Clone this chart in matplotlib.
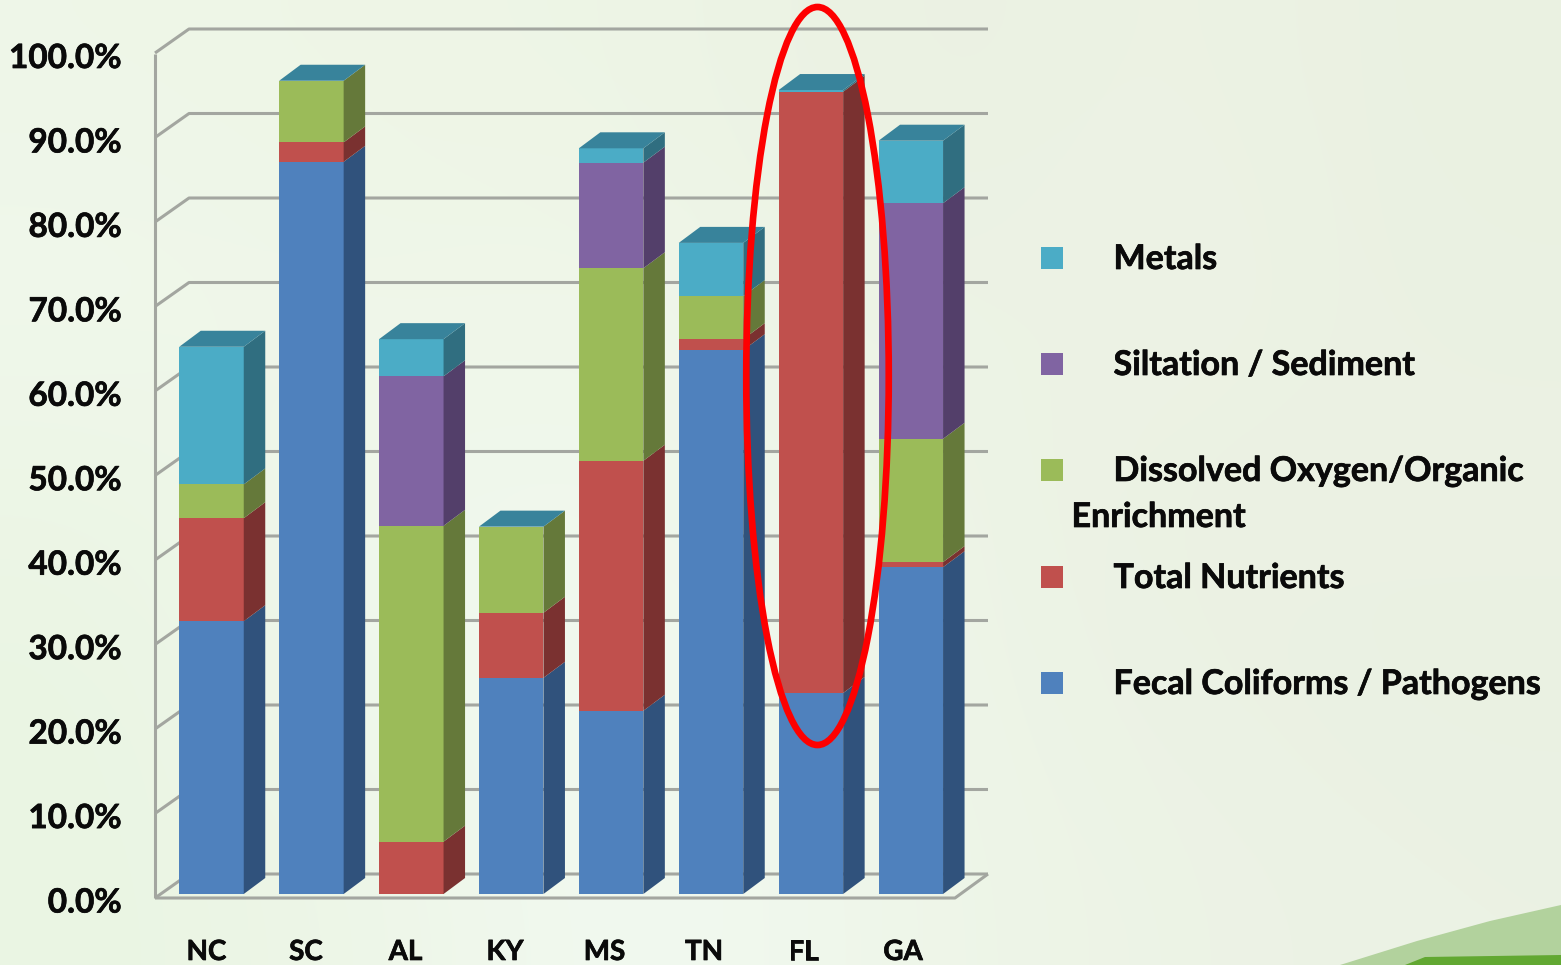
import matplotlib
matplotlib.use("Agg")
import matplotlib.pyplot as plt
import matplotlib.patheffects as pe
import numpy as np
from matplotlib.patches import Ellipse, Polygon

plt.rcParams["font.family"] = ["Lato", "DejaVu Sans"]

states = ["NC", "SC", "AL", "KY", "MS", "TN", "FL", "GA"]
y_ticks = [0, 10, 20, 30, 40, 50, 60, 70, 80, 90, 100]

# stacked shares per state, percent
fecal = [32.3, 86.7, 0.0, 25.6, 21.7, 64.4, 23.8, 38.7]
nutrients = [12.2, 2.3, 6.2, 7.7, 29.6, 1.3, 71.2, 0.6]
oxygen = [4.0, 7.3, 37.4, 10.2, 22.8, 5.1, 0.0, 14.6]
sediment = [0.0, 0.0, 17.7, 0.0, 12.5, 0.0, 0.0, 27.9]
metals = [16.3, 0.0, 4.4, 0.0, 1.7, 6.3, 0.2, 7.4]

series = [fecal, nutrients, oxygen, sediment, metals]
front_cols = ["#4f81bd", "#c0504d", "#9bbb59", "#8064a2", "#4bacc6"]
side_cols = ["#30527c", "#7a3130", "#65793a", "#533f6a", "#306e80"]
top_col = "#38839b"
grid_col = "#a3a6a0"

legend_labels = ["Metals", "Siltation / Sediment",
                 "Dissolved Oxygen/Organic", "Total Nutrients",
                 "Fecal Coliforms / Pathogens"]
legend_cols = ["#4bacc6", "#8064a2", "#9bbb59", "#c0504d", "#4f81bd"]
legend_y = [258, 364, 470, 577, 683]

W, H = 1561, 965
fig = plt.figure(figsize=(W / 100, H / 100), dpi=100)
heavy = [pe.withStroke(linewidth=0.5, foreground="#0a0a0a")]

# page layer in pixel coordinates: backdrop, leaf, legend
page = fig.add_axes([0, 0, 1, 1])
page.set_xlim(0, W)
page.set_ylim(H, 0)
page.axis("off")
backdrop = np.array([
    [[238, 246, 232], [238, 246, 230], [238, 245, 230], [234, 241, 226], [237, 243, 229], [234, 241, 225]],
    [[240, 248, 236], [239, 246, 232], [240, 247, 234], [235, 242, 228], [238, 244, 230], [234, 241, 226]],
    [[237, 246, 230], [240, 248, 236], [240, 248, 236], [238, 245, 231], [235, 241, 226], [236, 242, 228]],
    [[234, 245, 227], [240, 248, 238], [242, 250, 242], [238, 245, 232], [235, 242, 228], [234, 241, 226]],
    [[234, 245, 227], [238, 246, 232], [242, 250, 242], [238, 246, 232], [237, 243, 230], [235, 242, 228]],
]) / 255
page.imshow(backdrop, extent=(0, W, H, 0), aspect="auto",
            interpolation="bicubic", zorder=0)
page.add_patch(Polygon([(1340, 965), (1417, 941), (1490, 921), (1561, 905), (1561, 965)],
                       fc="#b2d29d", ec="none", zorder=1))
page.add_patch(Polygon([(1405, 965), (1425, 957), (1561, 955), (1561, 965)],
                       fc="#62a832", ec="none", zorder=1))
for label, col, ly in zip(legend_labels, legend_cols, legend_y):
    page.add_patch(Polygon([(1041, ly - 11), (1063, ly - 11), (1063, ly + 11), (1041, ly + 11)],
                           fc=col, ec="none", zorder=2))
    page.text(1113.5, ly + 1, label, fontsize=24.5, fontweight="bold", color="#0a0a0a",
              ha="left", va="center", zorder=2, path_effects=heavy)
page.text(1071.5, 517, "Enrichment", fontsize=24.5, fontweight="bold",
          color="#0a0a0a", ha="left", va="center", zorder=2, path_effects=heavy)

# chart layer: x in category units, y in percent
ax = fig.add_axes([0, 0, 1, 1])
ax.patch.set_alpha(0)
ax.axis("off")
step = 99.9
unit = 8.445
x0 = 211.5
ax.set_xlim((0 - x0) / step, (W - x0) / step)
ax.set_ylim((894 - H) / unit, 894 / unit)

bar_w = 64.5 / step
depth_x = 21.5 / step
depth_y = 16 / unit

# walls and gridlines
wall_x0 = (155 - x0) / step
wall_x1 = (189 - x0) / step
wall_end = (988 - x0) / step
floor_end = (955 - x0) / step
wall_lift = 24 / unit
wall_drop = 4 / unit
line_kw = dict(color=grid_col, lw=2.2, solid_capstyle="butt", zorder=1)
for t in y_ticks:
    front = t * 845 / 844.5 - wall_drop
    ax.plot([wall_x0, wall_x1, wall_end],
            [front, front + wall_lift, front + wall_lift], **line_kw)
ax.plot([wall_x0, wall_x0], [-wall_drop, 100 - wall_drop], **line_kw)
ax.plot([wall_x0, floor_end, wall_end],
        [-wall_drop, -wall_drop, -wall_drop + wall_lift], **line_kw)

# bars, left to right so each one sits over the previous depth faces
for i, state in enumerate(states):
    base = 0.0
    x_r = i + bar_w / 2
    x_l = i - bar_w / 2
    for seg, fc, sc in zip(series, front_cols, side_cols):
        val = seg[i]
        if val <= 0:
            continue
        ax.bar(i, val, bottom=base, width=bar_w, color=fc, lw=0, zorder=3 + i)
        ax.fill([x_r, x_r + depth_x, x_r + depth_x, x_r],
                [base, base + depth_y, base + val + depth_y, base + val],
                color=sc, lw=0, zorder=3 + i)
        base += val
    ax.fill([x_l, x_r, x_r + depth_x, x_l + depth_x],
            [base, base, base + depth_y, base + depth_y],
            color=top_col, lw=0, zorder=3 + i)

# hand drawn highlight around FL
fl = states.index("FL")
ax.add_patch(Ellipse((fl + (817.5 - x0 - fl * step) / step, (894 - 376) / unit),
                     142.5 / step, 738 / unit, fill=False, ec="#fe0000",
                     lw=4.8, zorder=20))

# tick text
for t in y_ticks:
    ax.text((121.5 - x0) / step, t - 9 / unit, f"{t:.1f}%", fontsize=24,
            fontweight="bold", color="#0a0a0a", ha="right", va="center", zorder=21,
            path_effects=heavy)
for i, state in enumerate(states):
    ax.text(i * 99.5 / step - 5 / step, (894 - 952) / unit, state, fontsize=20,
            fontweight="bold", color="#0a0a0a", ha="center", va="center", zorder=21,
            path_effects=heavy)

fig.savefig("out.png", dpi=100)
